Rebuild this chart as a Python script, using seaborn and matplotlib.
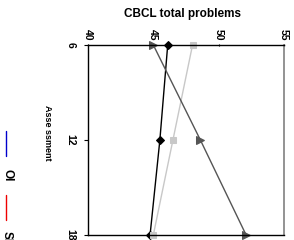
import matplotlib
matplotlib.use("Agg")
import matplotlib.pyplot as plt
import seaborn as sns
import pandas as pd

# ---- data ----
assessment = [6, 12, 18]
series_a = [46.1, 45.5, 44.75]   # black diamonds
series_b = [48.0, 46.5, 45.0]    # light grey squares
series_c = [45.0, 48.6, 52.1]    # dark grey triangles
x_ticks = [40, 45, 50, 55]
y_ticks = [6, 12, 18]

sns.set_style("white")
plt.rcParams['font.family'] = ['Liberation Sans', 'DejaVu Sans']
plt.rcParams['text.color'] = 'black'
plt.rcParams['xtick.color'] = 'black'
plt.rcParams['ytick.color'] = 'black'

fig = plt.figure(figsize=(2.94, 2.40), dpi=100)
ax = fig.add_axes([88 / 294, 1 - 235 / 240, (284 - 88) / 294, (235 - 45) / 240])

styles = [
    (series_a, "#000000", "D", 4.0, "#000000"),
    (series_b, "#c8c8c8", "s", 5.0, "#c8c8c8"),
    (series_c, "#555555", ">", 5.5, "#555555"),
]
for vals, col, mk, ms, mcol in styles:
    df = pd.DataFrame({"value": vals, "assessment": assessment})
    sns.lineplot(data=df, x="value", y="assessment", orient="y", sort=False,
                 color=col, marker=mk, markersize=ms, markeredgecolor=mcol,
                 markerfacecolor=mcol, linewidth=1.0, ax=ax, clip_on=False)

ax.set_xlim(40, 55)
ax.set_ylim(18, 6)
ax.xaxis.tick_top()
ax.set_xticks(x_ticks)
ax.set_yticks(y_ticks)
ax.set_xticklabels([str(t) for t in x_ticks], rotation=-90, fontsize=7.5, fontweight="bold")
ax.set_yticklabels([str(t) for t in y_ticks], rotation=-90, fontsize=7.5, fontweight="bold",
                   va="center")
ax.tick_params(axis="x", top=True, bottom=False, length=2, width=0.8, pad=2, direction="inout")
ax.tick_params(axis="y", left=True, length=3, width=0.8, pad=6)
ax.set_xlabel("")
ax.set_ylabel("")

for side in ["top", "left", "bottom"]:
    ax.spines[side].set_color("#000000")
    ax.spines[side].set_linewidth(1.0)
ax.spines["right"].set_color("#808080")
ax.spines["right"].set_linewidth(1.2)

fig.text(182 / 294, 1 - 14 / 240, "CBCL total problems", ha="center", va="center",
         fontsize=8.5, fontweight="bold")
fig.text(47 / 294, 1 - 133 / 240, "Asse ssment", ha="center", va="center",
         rotation=-90, fontsize=6.5, fontweight="bold")

# legend drawn sideways like the reference
fig.add_artist(plt.Line2D([6 / 294, 6 / 294], [1 - 131 / 240, 1 - 156 / 240],
                          color="#0000cc", linewidth=1.0))
fig.text(7 / 294, 1 - 175 / 240, "OI", ha="center", va="center", rotation=-90,
         fontsize=8.5, fontweight="bold")
fig.add_artist(plt.Line2D([6 / 294, 6 / 294], [1 - 195 / 240, 1 - 220 / 240],
                          color="#ee0000", linewidth=1.0))
fig.text(7 / 294, 1 - 231 / 240, "SI", ha="center", va="top", rotation=-90,
         fontsize=8.5, fontweight="bold")

fig.savefig("out.png", dpi=100)
